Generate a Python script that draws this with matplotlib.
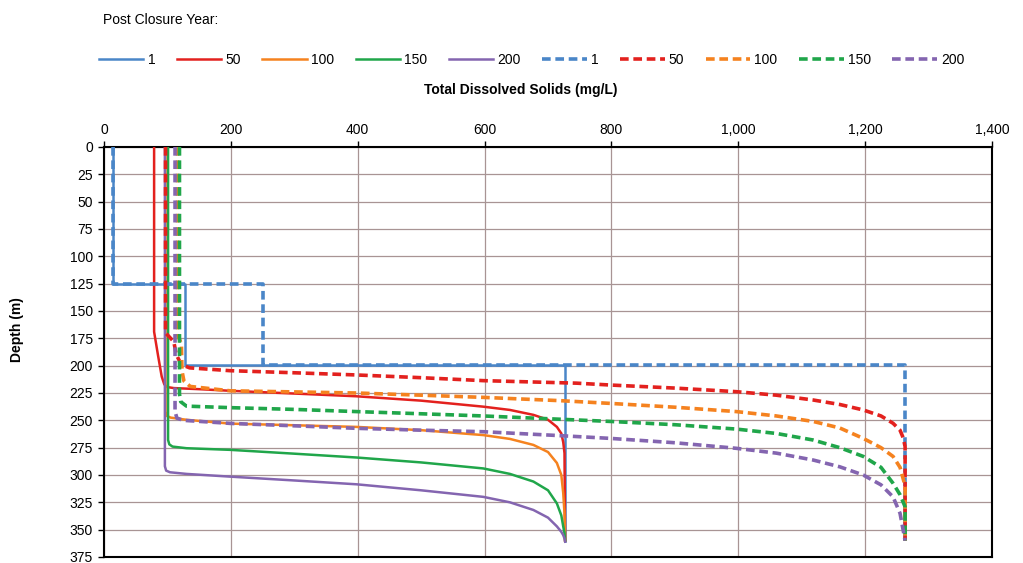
import numpy as np
import matplotlib.pyplot as plt
from matplotlib.lines import Line2D

plt.rcParams['font.family'] = ['Liberation Sans', 'DejaVu Sans']

years = ['1', '50', '100', '150', '200']
colors = ['#4a86c8', '#e3211e', '#f5821f', '#20a64a', '#8465b0']

# solid series (TDS mg/L vs depth m)
tds_s1 = [14, 14, 128, 128, 727, 727]
dep_s1 = [0, 125, 125, 199, 199, 360]
tds_s50 = [79, 79, 85, 91, 95, 99, 110, 150, 200, 300, 398, 500, 598, 640, 677, 700, 714, 721, 724, 726, 727]
dep_s50 = [0, 169, 190, 210, 217, 219.5, 220.5, 221.5, 223, 225.5, 228, 232, 237.5, 240.5, 245, 249.5, 256, 262, 270, 280, 360]
tds_s100 = [97, 97, 99, 105, 130, 199, 300, 398, 500, 598, 640, 677, 700, 714, 721, 724, 726, 727]
dep_s100 = [0, 242, 246, 247.5, 249.5, 253, 254.5, 256, 259, 263.5, 267, 272.5, 279, 289, 300, 316.5, 335, 360]
tds_s150 = [101, 101, 103, 108, 130, 199, 300, 398, 500, 598, 640, 677, 700, 714, 721, 724, 726, 727]
dep_s150 = [0, 268, 272, 274, 275.5, 277, 280.5, 284, 288.5, 294, 299, 306, 314, 326, 337, 347, 353, 360]
tds_s200 = [96, 96, 98, 104, 130, 199, 300, 398, 500, 598, 640, 677, 700, 714, 721, 724, 726, 727]
dep_s200 = [0, 292, 296, 297.5, 299, 301.5, 305, 308.5, 314, 320, 325, 332, 339, 347, 352, 355, 358, 361]

# dashed series
tds_d1 = [14, 14, 251, 251, 1263, 1263]
dep_d1 = [0, 125, 125, 199, 199, 360]
tds_d50 = [97, 97, 110, 114, 122, 135, 199, 300, 398, 500, 598, 745, 798, 900, 997, 1060, 1118, 1160, 1197, 1225, 1244, 1255, 1260, 1263, 1263]
dep_d50 = [0, 170, 178, 190, 199, 202, 204.6, 206.5, 208.5, 211, 213.7, 216, 217.7, 220.5, 223.8, 227, 231.4, 235.5, 240.5, 246, 252.7, 259, 266, 274, 360]
tds_d100 = [116, 116, 122, 123, 126, 136, 199, 300, 398, 500, 598, 719, 798, 900, 997, 1060, 1118, 1160, 1197, 1225, 1244, 1255, 1263, 1263]
dep_d100 = [0, 172, 180, 205, 214, 219, 223, 224, 225, 227, 229, 232, 234.5, 238, 242, 246, 251, 257, 266.5, 275, 283, 293, 310, 360]
tds_d150 = [119, 119, 121, 130, 199, 300, 398, 500, 598, 719, 798, 900, 997, 1060, 1118, 1160, 1197, 1225, 1244, 1255, 1263, 1263]
dep_d150 = [0, 226, 233, 237, 238.4, 240, 242, 244, 246, 249, 251, 254, 258, 262, 268, 275, 283, 293, 307.6, 318, 329, 360]
tds_d200 = [112, 112, 115, 125, 199, 300, 398, 500, 598, 719, 798, 900, 997, 1060, 1118, 1160, 1197, 1225, 1244, 1255, 1263]
dep_d200 = [0, 242, 248, 250, 252.8, 255, 257.3, 259, 260.4, 264, 266.5, 270.5, 275.6, 280, 286.3, 292.5, 300, 309, 320, 335, 360]

solid = [(tds_s1, dep_s1), (tds_s50, dep_s50), (tds_s100, dep_s100), (tds_s150, dep_s150), (tds_s200, dep_s200)]
dashed = [(tds_d1, dep_d1), (tds_d50, dep_d50), (tds_d100, dep_d100), (tds_d150, dep_d150), (tds_d200, dep_d200)]

fig = plt.figure(figsize=(10.23, 5.63), dpi=100)
ax = fig.add_axes([104/1023, 1-557/563, (992-104)/1023, (557-147)/563])

handles = []
for (x, y), c in zip(solid, colors):
    ax.plot(x, y, color=c, lw=1.8, zorder=3)
    handles.append(Line2D([], [], color=c, lw=1.8))
for (x, y), c in zip(dashed, colors):
    ax.plot(x, y, color=c, lw=2.6, dashes=(2.4, 1.3), zorder=4)
    handles.append(Line2D([], [], color=c, lw=2.6, dashes=(2.4, 1.3)))

ax.set_xlim(0, 1400)
ax.set_ylim(375, 0)
ax.set_xticks(np.arange(0, 1401, 200))
ax.set_yticks(np.arange(0, 376, 25))
ax.set_xticklabels([f'{v:,}' for v in range(0, 1401, 200)])
ax.xaxis.tick_top()
ax.tick_params(axis='both', labelsize=10, length=4, width=1, direction='out', pad=3)
ax.tick_params(axis='y', pad=4)
ax.grid(True, color='#a89494', lw=0.9, zorder=0)
ax.set_axisbelow(True)
for s in ax.spines.values():
    s.set_linewidth(1.5)
    s.set_color('black')

fig.text(103/1023, 1-20/563, 'Post Closure Year:', fontsize=10, va='center', ha='left')
fig.legend(handles, years + years, ncol=10, loc='center left', bbox_to_anchor=(99/1023, 1-60/563),
           frameon=False, fontsize=10, handlelength=3.2, handletextpad=0.3, columnspacing=1.55,
           borderaxespad=0, borderpad=0)
fig.text(521/1023, 1-90/563, 'Total Dissolved Solids (mg/L)', fontsize=10, fontweight='bold',
         ha='center', va='center')
fig.text(17/1023, 1-330/563, 'Depth (m)', fontsize=10, fontweight='bold', rotation=90,
         ha='center', va='center')

fig.savefig('out.png', dpi=100)
